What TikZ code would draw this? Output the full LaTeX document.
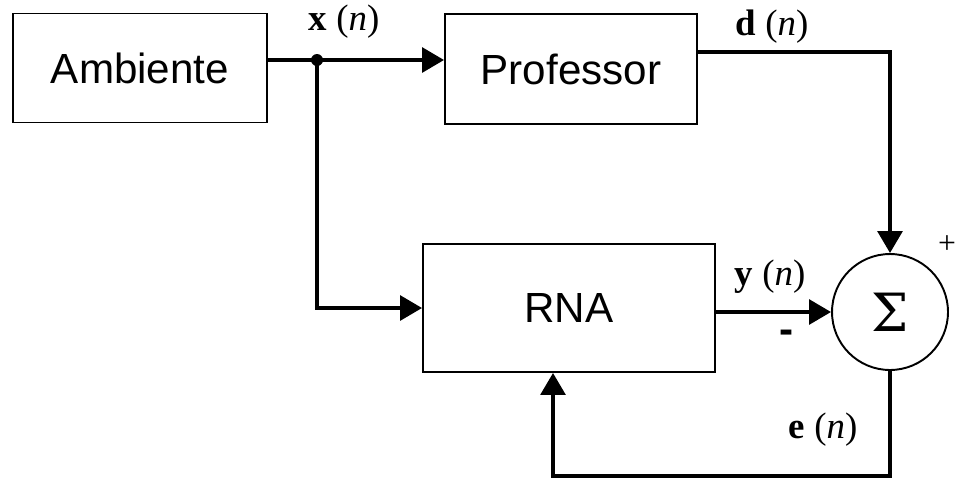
\documentclass[tikz,border=0pt]{standalone}
\usepackage{fontspec}
\setmainfont{Liberation Sans}
\newfontfamily\serifrm{Liberation Serif}
\newfontfamily\sigmafont{DejaVu Serif}
\usetikzlibrary{positioning, arrows.meta, calc}

\begin{document}
\begin{tikzpicture}[x=0.02cm, y=-0.02cm]
    \tikzset{blk/.style={draw,line width=1.1pt,fill=white,align=center,font=\fontsize{24}{28}\selectfont},
      sig/.style={-{Triangle[length=12.5pt,width=14pt]},line width=2.3pt},
      lbl/.style={inner sep=0pt,font=\serifrm\fontsize{21}{25}\selectfont}}
    \useasboundingbox (0,0) rectangle (956,481);
    \node[blk,minimum width=5.08cm,minimum height=2.18cm] (amb) at (140,68) {Ambiente};
    \node[blk,minimum width=5.04cm,minimum height=2.2cm] (prof) at (571,69) {Professor};
    \node[blk,minimum width=5.84cm,minimum height=2.56cm] (rna) at (569,308) {RNA};
    \node[draw,circle,line width=1.1pt,inner sep=0pt,minimum size=2.32cm,font=\sigmafont\fontsize{30}{34}\selectfont] (sum) at (890,312) {Σ};
    \coordinate (j) at (317,60);
    \coordinate (fb) at (553,476);
    % sinais
    \draw[sig] (amb.east |- j) -- (prof.west |- j);
    \fill (j) circle (0.12cm);
    \draw[sig] (j) |- (rna.west);
    \draw[sig] ([yshift=0.34cm]prof.east) -| (sum.north);
    \draw[sig] (rna.east |- sum.west) -- (sum.west);
    \draw[sig] (sum.south) |- (fb) -- (fb |- rna.south);
    % rotulos
    \node[lbl] (xn) at (344,22) {\textbf{x} (\textit{n})};
    \node[lbl] (dn) at (772,27) {\textbf{d} (\textit{n})};
    \node[lbl] (yn) at (770,277) {\textbf{y} (\textit{n})};
    \node[lbl] (en) at (823,430) {\textbf{e} (\textit{n})};
    \node[inner sep=0pt,font=\bfseries\fontsize{24}{28}\selectfont] (menos) at (787,337) {-};
    \node[inner sep=0pt,font=\serifrm\fontsize{18}{21}\selectfont] (mais) at (947,245) {+};
  \end{tikzpicture}
\end{document}
